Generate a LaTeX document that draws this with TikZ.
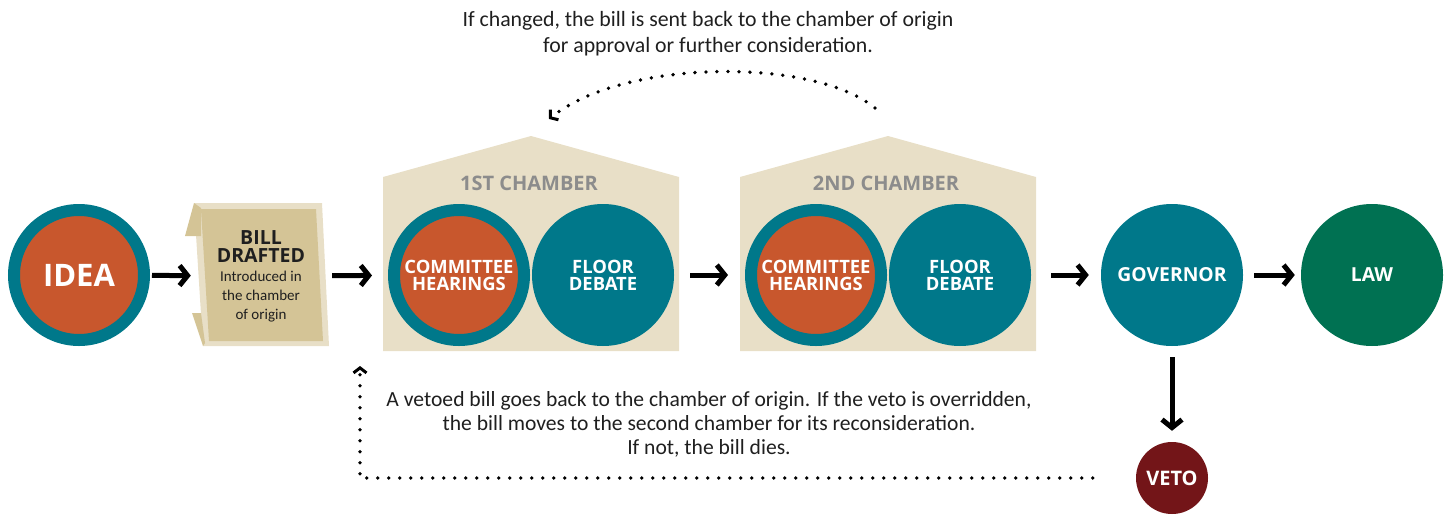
\documentclass[tikz,border=0pt]{standalone}
\usepackage{fontspec}
\setmainfont{Carlito}
\newfontfamily\hfont{Open Sans}
\usetikzlibrary{arrows.meta}
\definecolor{cteal}{HTML}{00788A}
\definecolor{corange}{HTML}{C8572D}
\definecolor{cbeige}{HTML}{E8DFC7}
\definecolor{ctan}{HTML}{D4C496}
\definecolor{cgreen}{HTML}{007152}
\definecolor{cveto}{HTML}{731518}
\definecolor{cgray}{HTML}{8C8C8C}
\definecolor{ctext}{HTML}{1F1F1F}
\newcommand{\hdfont}{\hfont\bfseries\fontsize{19.5}{18.7}\selectfont}
\newcommand{\bdfont}{\fontsize{15}{18.7}\selectfont}
\begin{document}
\begin{tikzpicture}[x=1pt,y=-1pt,
  ring/.style={circle, minimum size=130pt, inner sep=0pt, fill=corange, draw=cteal, line width=12pt,
    text=white, align=center, font=\hfont\bfseries\fontsize{18.4}{17}\selectfont},
  disc/.style={circle, minimum size=142pt, inner sep=0pt, fill=cteal, text=white, align=center,
    font=\hfont\bfseries\fontsize{18.4}{17}\selectfont},
  chlabel/.style={text=cgray, font=\hfont\bfseries\fontsize{20}{22}\selectfont, inner sep=0pt},
  note/.style={text=ctext, align=center, font=\fontsize{21.6}{24}\selectfont, inner sep=0pt},
  arr/.style={line width=5pt, -{Straight Barb[length=8pt,width=20pt]}},
  dots/.style={line width=3.8pt, line cap=round, dash pattern=on 0pt off 11pt},
  dotarr/.style={-{Straight Barb[length=5pt,width=13pt,line width=3pt]}}
]
\useasboundingbox (0,0) rectangle (1445,514);

% IDEA
\node[ring, font=\hfont\bfseries\fontsize{31}{34}\selectfont] (idea) at (79,275) {IDEA};

% Bill drafted sheet
\fill[cbeige] (194,203) -- (322,203) -- (329,346) -- (203,346) -- cycle;
\fill[ctan] (194,203) -- (201,208) -- (201,236) -- (185,236) -- cycle;
\fill[ctan] (192,313) -- (201,313) -- (205,343) -- (203,346) -- cycle;
\fill[ctan] (201,209) -- (316,209) -- (323,341) -- (209,341) -- cycle;
\node[minimum width=136pt, minimum height=143pt, inner sep=0pt, align=center, text=ctext, font=\bdfont]
  (bill) at (261,276) {\hdfont BILL\\\hdfont DRAFTED\\\bdfont Introduced in\\\bdfont the chamber\\\bdfont of origin};

% Chambers
\fill[cbeige] (383,177) -- (531,136) -- (679,177) -- (679,351) -- (383,351) -- cycle;
\node[chlabel] (ch1) at (529,183) {1ST CHAMBER};
\node[ring] (com1) at (459,275) {COMMITTEE\\HEARINGS};
\node[disc] (flo1) at (603,275) {FLOOR\\DEBATE};

\fill[cbeige] (740,177) -- (888,136) -- (1036,177) -- (1036,351) -- (740,351) -- cycle;
\node[chlabel] (ch2) at (886,183) {2ND CHAMBER};
\node[ring] (com2) at (816,275) {COMMITTEE\\HEARINGS};
\node[disc] (flo2) at (960,275) {FLOOR\\DEBATE};

% Governor, law, veto
\node[disc, font=\hfont\bfseries\fontsize{19.3}{20}\selectfont] (gov) at (1172,275) {GOVERNOR};
\node[disc, fill=cgreen, font=\hfont\bfseries\fontsize{19.3}{20}\selectfont] (law) at (1372,275) {LAW};
\node[circle, minimum size=72pt, inner sep=0pt, fill=cveto, text=white,
  font=\hfont\bfseries\fontsize{20}{22}\selectfont] (veto) at (1172,478) {VETO};

% Solid arrows
\draw[arr, shorten <=2pt, shorten >=2pt] (idea) -- (bill);
\draw[arr, shorten <=3pt, shorten >=16pt] (bill) -- (com1);
\draw[arr, shorten <=16pt, shorten >=17pt] (flo1) -- (com2);
\draw[arr, shorten <=20pt, shorten >=12pt] (flo2) -- (gov);
\draw[arr, shorten <=11pt, shorten >=6pt] (gov) -- (law);
\draw[arr, shorten <=11pt, shorten >=11pt] (gov) -- (veto);

% Notes
\node[note, font=\fontsize{21.8}{26}\selectfont] (topnote) at (708,34)
  {If changed, the bill is sent back to the chamber of origin\\for approval or further consideration.};
\node[note] (vetonote) at (709,424)
  {A vetoed bill goes back to the chamber of origin. If the veto is overridden,\\the bill moves to the second chamber for its reconsideration.\\If not, the bill dies.};

% Dotted return paths
\coordinate (arcS) at (875,108);
\coordinate (arcE) at (549,119);
\draw[dots, dotarr] (arcS) .. controls (815,58) and (625,58) .. (arcE);
\coordinate (vb) at (360,366);
\draw[dots, dotarr] ([xshift=-43pt]veto.west) -| (vb);
\end{tikzpicture}
\end{document}
